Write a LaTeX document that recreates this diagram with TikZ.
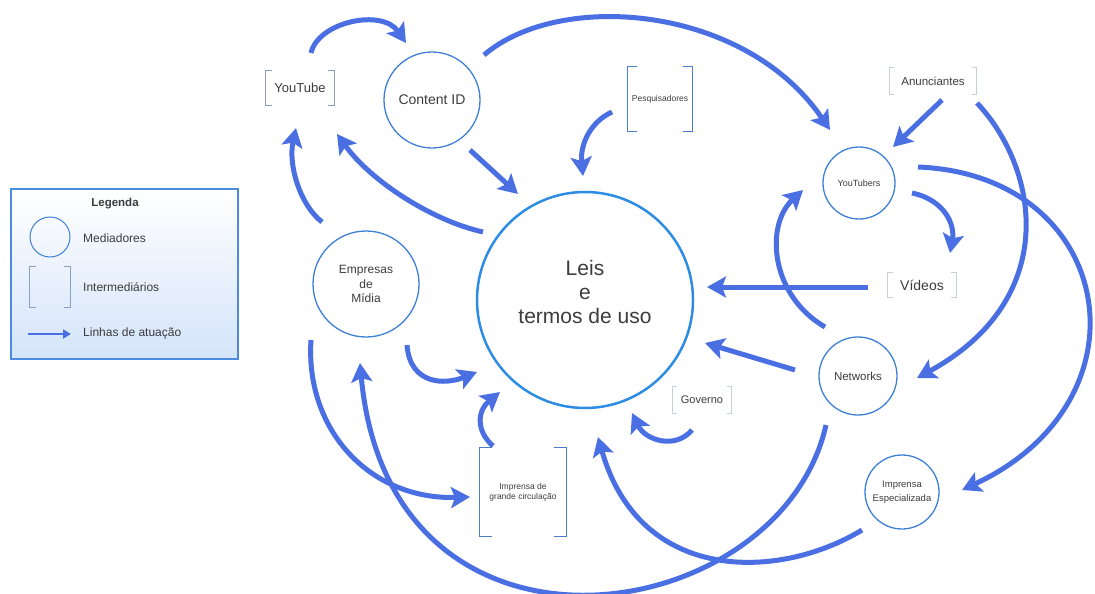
\documentclass[tikz,border=0pt]{standalone}
\usepackage{fontspec}
\setmainfont{Liberation Sans}
\usetikzlibrary{arrows.meta,calc}
\definecolor{arr}{RGB}{74,111,227}
\definecolor{circ}{RGB}{62,128,214}
\definecolor{lawc}{RGB}{45,140,228}
\definecolor{txt}{RGB}{60,60,60}
\definecolor{brkA}{RGB}{140,160,195}
\definecolor{brkB}{RGB}{75,125,205}
\definecolor{brkC}{RGB}{200,208,222}
\definecolor{legb}{RGB}{75,140,222}
\definecolor{legf}{RGB}{212,228,250}
\newcommand{\fs}[2]{\fontsize{#1}{#2}\selectfont}
\begin{document}
\begin{tikzpicture}[x=1pt,y=-1pt,
  med/.style={circle,draw=circ,line width=1.3pt,inner sep=0pt,text=txt,align=center,minimum size=#1},
  interm/.style={rectangle,inner sep=0pt,text=txt,align=center},
  flow/.style={draw=arr,line width=5pt,-{Stealth[length=19pt,width=21pt,inset=4pt]}},
  lbl/.style={text=txt,anchor=west,inner sep=0pt,font=\fs{12}{14}}]
\useasboundingbox (0,0) rectangle (1095,594);

% legend
\node[draw=legb,line width=1.5pt,top color=white,bottom color=legf,minimum width=227pt,minimum height=170pt,inner sep=0pt] (leg) at (124.5,274) {};
\node[text=txt,font=\fs{11.5}{14}\bfseries] (legt) at (115,204) {Legenda};
\node[circle,draw=circ,line width=1pt,minimum size=40pt,inner sep=0pt] (lcirc) at (50,237) {};
\node[interm,minimum width=40pt,minimum height=40pt] (lbrk) at (50,287) {};
\coordinate (la1) at (28,334);
\coordinate (la2) at (71,334);
\draw[arr,line width=2pt,-{Triangle[length=8pt,width=9pt]}] (la1) -- (la2);
\node[lbl] (l1) at (83,238) {Mediadores};
\node[lbl] (l2) at (83,287) {Intermediários};
\node[lbl] (l3) at (83,333) {Linhas de atuação};

% main nodes
\node[med=216pt,draw=lawc,line width=2.5pt] (law) at (585,300) {};
\node[text=txt,align=center,font=\fs{21}{24}] (lawt) at (585,292) {Leis\\e\\termos de uso};
\node[med=96pt,font=\fs{14}{16}] (ci) at (432,100) {Content ID};
\node[interm,minimum width=68pt,minimum height=35pt,font=\fs{13}{15}] (yt) at (300,88) {YouTube};
\node[interm,minimum width=65pt,minimum height=65pt,font=\fs{8.5}{10}] (pq) at (660,99) {Pesquisadores};
\node[interm,minimum width=87pt,minimum height=26pt,font=\fs{11.5}{13}] (an) at (933,81) {Anunciantes};
\node[med=72pt,font=\fs{9}{11}] (ytb) at (859,183) {YouTubers};
\node[interm,minimum width=68pt,minimum height=25pt,font=\fs{14}{16}] (vid) at (922,285) {Vídeos};
\node[med=78pt,font=\fs{11.5}{13}] (net) at (858,376) {Networks};
\node[interm,minimum width=59pt,minimum height=26pt,font=\fs{11}{13}] (gov) at (702,400) {Governo};
\node[med=74pt,font=\fs{9.5}{14}] (ie) at (902,492) {Imprensa\\Especializada};
\node[med=106pt,font=\fs{12}{14.5}] (emp) at (366,284) {Empresas\\de\\Mídia};
\node[interm,minimum width=87pt,minimum height=88pt,font=\fs{8.5}{10}] (igc) at (523,492) {Imprensa de\\grande circulação};

% brackets
\foreach \n/\c/\t in {yt/brkA/6,pq/brkB/10,an/brkC/5,vid/brkC/5,gov/brkC/5,igc/brkB/13,lbrk/brkA/6}
  \draw[\c,line width=1.3pt] ([xshift=\t pt]\n.north west) -- (\n.north west) -- (\n.south west) -- ([xshift=\t pt]\n.south west)
    ([xshift=-\t pt]\n.north east) -- (\n.north east) -- (\n.south east) -- ([xshift=-\t pt]\n.south east);

% connectors
\draw[flow] ($(yt)+(11,-35)$) .. controls (318,22) and (382,8) .. ($(ci)+(-26,-57)$);
\draw[flow] ($(ci)+(52,-45)$) .. controls (560,-10) and (745,5) .. ($(ytb)+(-29,-53)$);
\draw[flow] ($(pq)+(-48,13)$) .. controls (590,122) and (580,145) .. ($(law)+(-2,-124)$);
\draw[flow] ($(ci)+(38,50)$) -- ($(law)+(-67,-106)$);
\draw[flow] ($(law)+(-102,-68)$) .. controls (430,220) and (370,180) .. ($(yt)+(37,46)$);
\draw[flow] ($(emp)+(-44,-62)$) .. controls (300,205) and (288,165) .. ($(yt)+(-4,40)$);
\draw[flow] ($(an)+(9,19)$) -- ($(ytb)+(34,-36)$);
\draw[flow] ($(an)+(44,22)$) .. controls (1040,170) and (1060,300) .. ($(net)+(59,2)$);
\draw[flow] ($(ytb)+(59,-16)$) .. controls (1115,175) and (1155,400) .. ($(ie)+(60,-2)$);
\draw[flow] ($(ytb)+(53,10)$) .. controls (945,200) and (955,225) .. ($(vid)+(28,-32)$);
\draw[flow] ($(vid)+(-54,2)$) -- ($(law)+(122,-13)$);
\draw[flow] ($(net)+(-33,-49)$) .. controls (770,295) and (765,225) .. ($(ytb)+(-56,7)$);
\draw[flow] ($(net)+(-63,-6)$) -- ($(law)+(120,43)$);
\draw[flow] ($(gov)+(-10,30)$) .. controls (675,450) and (645,440) .. ($(law)+(47,113)$);
\draw[flow] ($(net)+(-32,49)$) .. controls (780,630) and (390,690) .. ($(emp)+(-6,79)$);
\draw[flow] ($(emp)+(-55,56)$) .. controls (305,430) and (370,500) .. ($(igc)+(-53,5)$);
\draw[flow] ($(emp)+(41,61)$) .. controls (410,385) and (445,385) .. ($(law)+(-108,72)$);
\draw[flow] ($(igc)+(-30,-46)$) .. controls (475,430) and (478,410) .. ($(law)+(-85,92)$);
\draw[flow] ($(ie)+(-40,38)$) .. controls (780,580) and (640,585) .. ($(law)+(13,137)$);
\end{tikzpicture}
\end{document}
